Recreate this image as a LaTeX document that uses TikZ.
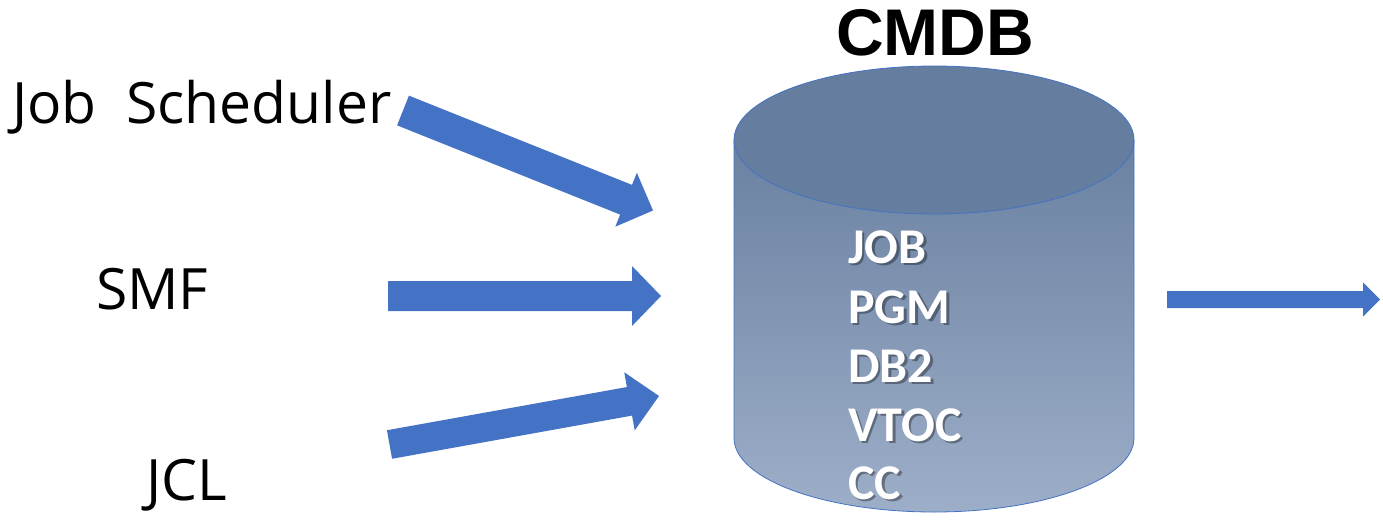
\documentclass[tikz,border=0pt]{standalone}
\usepackage{fontspec}
\setmainfont{Open Sans}
\newfontfamily\labelfont{Carlito}
\newfontfamily\titlefont{Liberation Sans}
\usetikzlibrary{calc}
\definecolor{arrowblue}{HTML}{4472C4}
\definecolor{dbtop}{HTML}{657D9E}
\definecolor{dbupper}{HTML}{6A81A1}
\definecolor{dblower}{HTML}{9DAEC8}
% block arrow from #1 to #2: half shaft width #3, half head width #4, head length #5
\newcommand\blockarrow[5]{%
  \coordinate (hb) at ($(#2)!#5!(#1)$);
  \fill[flow]
    ($(#1)!#3!90:(#2)$) -- ($(hb)!#3!90:(#2)$) -- ($(hb)!#4!90:(#2)$) -- (#2)
    -- ($(hb)!#4!-90:(#2)$) -- ($(hb)!#3!-90:(#2)$) -- ($(#1)!#3!-90:(#2)$) -- cycle;
}
\begin{document}
\begin{tikzpicture}[x=1pt,y=-1pt,
  source/.style={font=\fontsize{57}{60}\selectfont, inner sep=0pt, anchor=base west},
  item/.style={font=\labelfont\bfseries\fontsize{50}{52}\selectfont, text=white, inner sep=0pt, anchor=base west},
  itemshadow/.style={font=\labelfont\bfseries\fontsize{50}{52}\selectfont, text=black, opacity=0.35, inner sep=0pt, anchor=base west},
  flow/.style={fill=arrowblue},
]
\useasboundingbox (0,0) rectangle (1383,520);

% database cylinder
\shade[top color=dbupper, bottom color=dblower]
  (734,140) -- (734,438) arc[start angle=180, end angle=0, x radius=200, y radius=74]
  -- (1134,140) -- cycle;
\fill[dbtop] (934,140) ellipse [x radius=200, y radius=74];
\draw[arrowblue, line width=0.8pt]
  (734,140) -- (734,438) arc[start angle=180, end angle=0, x radius=200, y radius=74]
  -- (1134,140);
\draw[arrowblue, line width=0.8pt] (934,140) ellipse [x radius=200, y radius=74];

% title
\node[font=\titlefont\bfseries\fontsize{66}{70}\selectfont, inner sep=0pt, anchor=base]
  (title) at (935,55) {CMDB};

% contents of the database
\foreach \name/\txt/\yb in {job/JOB/263, pgm/PGM/323, db/DB2/382, vtoc/VTOC/441, cc/CC/499} {
  \node[itemshadow] (\name-s) at (850.5,\yb+2) {\txt};
  \node[item] (\name) at (848,\yb) {\txt};
}

% data sources
\node[source] (sched) at (12,123) {Job~~Scheduler};
\node[source] (smf) at (96,309) {SMF};
\node[source] (jcl) at (146,500) {JCL};

% arrow end points
\coordinate (a1s) at (403,110.5);
\coordinate (a1e) at (653,210.5);
\coordinate (a2s) at (388,296);
\coordinate (a2e) at (661,296);
\coordinate (a3s) at (389.5,444.5);
\coordinate (a3e) at (659,396);
\coordinate (a4s) at (1167,299.5);
\coordinate (a4e) at (1380,299.5);

\blockarrow{a1s}{a1e}{16pt}{29pt}{29pt}
\blockarrow{a2s}{a2e}{15pt}{30pt}{29pt}
\blockarrow{a3s}{a3e}{14.5pt}{29.5pt}{30pt}
\blockarrow{a4s}{a4e}{8.5pt}{17pt}{17pt}
\end{tikzpicture}
\end{document}
